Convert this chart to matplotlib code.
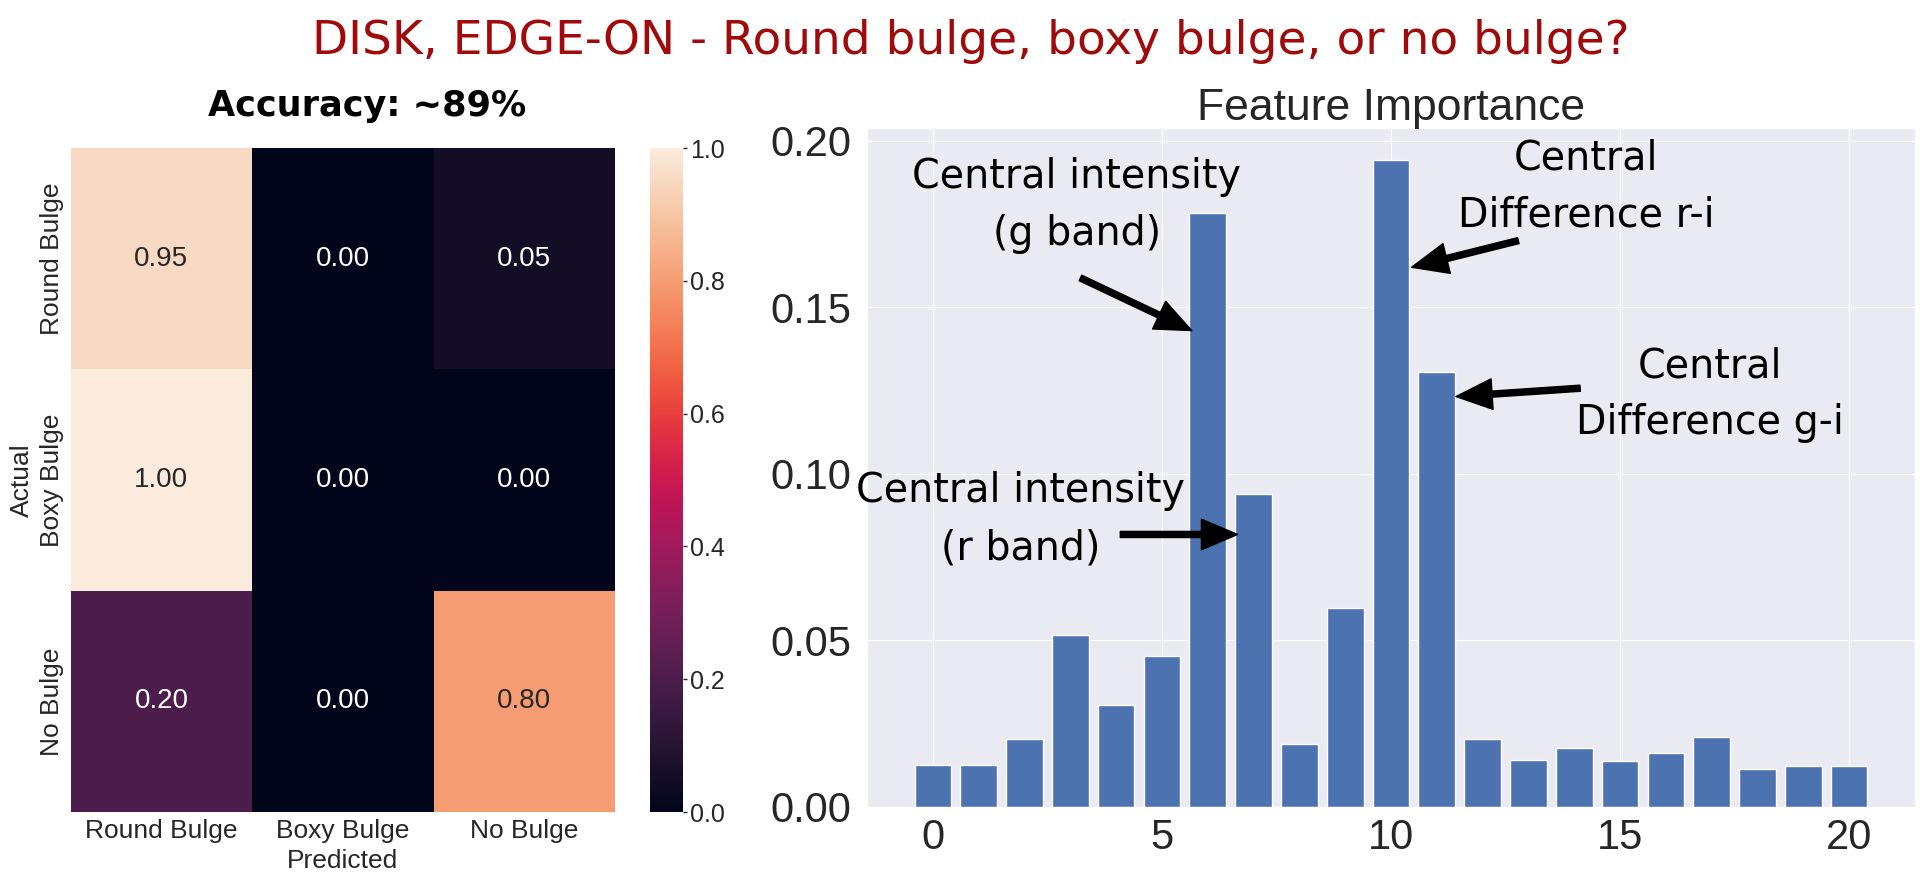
import matplotlib
matplotlib.use('Agg')
import matplotlib.pyplot as plt
import seaborn as sns
import numpy as np

# ---------------- data ----------------
classes = ['Round Bulge', 'Boxy Bulge', 'No Bulge']
conf_round = [0.95, 0.00, 0.05]
conf_boxy = [1.00, 0.00, 0.00]
conf_none = [0.20, 0.00, 0.80]
feature_idx = list(range(21))
importance = [0.0125, 0.0125, 0.0203, 0.0516, 0.0305, 0.0454, 0.1782, 0.0939,
              0.0189, 0.0598, 0.1941, 0.1307, 0.0203, 0.0141, 0.0178, 0.0138,
              0.0163, 0.0211, 0.0113, 0.0122, 0.0122]

title_text = 'DISK, EDGE-ON - Round bulge, boxy bulge, or no bulge?'
acc_text = 'Accuracy: ~89%'

# annotation: label, text centre, arrow tail, arrow tip (data coords of right axes)
notes = [
    ('Central intensity\n(g band)', (3.14, 0.1805), (3.22, 0.1588), (5.65, 0.143)),
    ('Central intensity\n(r band)', (1.91, 0.0862), (4.09, 0.0818), (6.65, 0.0818)),
    ('Central\nDifference r-i', (14.26, 0.1860), (12.78, 0.170), (10.45, 0.162)),
    ('Central\nDifference g-i', (16.96, 0.1237), (14.13, 0.1257), (11.42, 0.1232)),
]

sns.set_style('darkgrid')
plt.rcParams['font.family'] = ['Liberation Sans', 'DejaVu Sans']

W, H = 1920, 876
fig = plt.figure(figsize=(19.2, 8.76), dpi=100)


def rect(l, t, r, b):
    return [l / W, 1 - b / H, (r - l) / W, (b - t) / H]


ax_hm = fig.add_axes(rect(70.7, 148, 615, 812))
cax = fig.add_axes(rect(650, 148, 683, 812))
ax = fig.add_axes(rect(867, 128, 1915, 807))

# ---------------- heatmap ----------------
cm = np.array([conf_round, conf_boxy, conf_none])
sns.heatmap(cm, annot=True, fmt='.2f', ax=ax_hm, cbar_ax=cax,
            xticklabels=classes, yticklabels=classes, vmin=0, vmax=1,
            annot_kws={'fontsize': 20})
ax_hm.tick_params(axis='both', length=0, labelsize=19, pad=5, colors='.15')
for t in ax_hm.get_yticklabels():
    t.set_rotation(90)
    t.set_va('center')
for t in ax_hm.get_xticklabels():
    t.set_rotation(0)
ax_hm.set_xlabel('Predicted', fontsize=19, color='.15', labelpad=4)
ax_hm.set_ylabel('Actual', fontsize=19, color='.15', labelpad=4)
cax.tick_params(labelsize=18, length=3, width=1, colors='.15', pad=2)
cax.set_yticks([0, 0.2, 0.4, 0.6, 0.8, 1.0])

# ---------------- bar chart ----------------
ax.bar(feature_idx, importance, width=0.8, color='#4C72B0',
       edgecolor='white', linewidth=1)
ax.set_title('Feature Importance', fontsize=32, color='.15')
ax.tick_params(axis='y', labelsize=30, pad=11, length=0, colors='.15')
ax.tick_params(axis='x', labelsize=30, pad=8, length=0, colors='.15')

# ---------------- texts ----------------
title = fig.text(970.5 / W, 1 - 54 / H, title_text, ha='center', va='baseline',
                 color='#A00A0A', family='DejaVu Sans', fontsize=30)
acc = fig.text(367.5 / W, 1 - 116 / H, acc_text, ha='center', va='baseline',
               weight='bold', color='black', family='DejaVu Sans', fontsize=25)
probe = fig.text(0, 0, 'Central intensity', family='DejaVu Sans', fontsize=28)

renderer = fig.canvas.get_renderer()
for t, target in [(title, 1317), (acc, 319), (probe, 328)]:
    w = t.get_window_extent(renderer).width
    t.set_fontsize(t.get_fontsize() * target / w)
ann_size = probe.get_fontsize()
probe.remove()

for label, txy, tail, tip in notes:
    ax.text(txy[0], txy[1], label, ha='center', va='center', family='DejaVu Sans',
            fontsize=ann_size, linespacing=1.55, color='black', multialignment='center')
    ax.annotate('', xy=tip, xytext=tail,
                arrowprops=dict(arrowstyle='simple,head_length=1.3,head_width=1.1,tail_width=0.22',
                                color='black', shrinkA=0, shrinkB=0, mutation_scale=20))

fig.savefig('out.png', dpi=100)
